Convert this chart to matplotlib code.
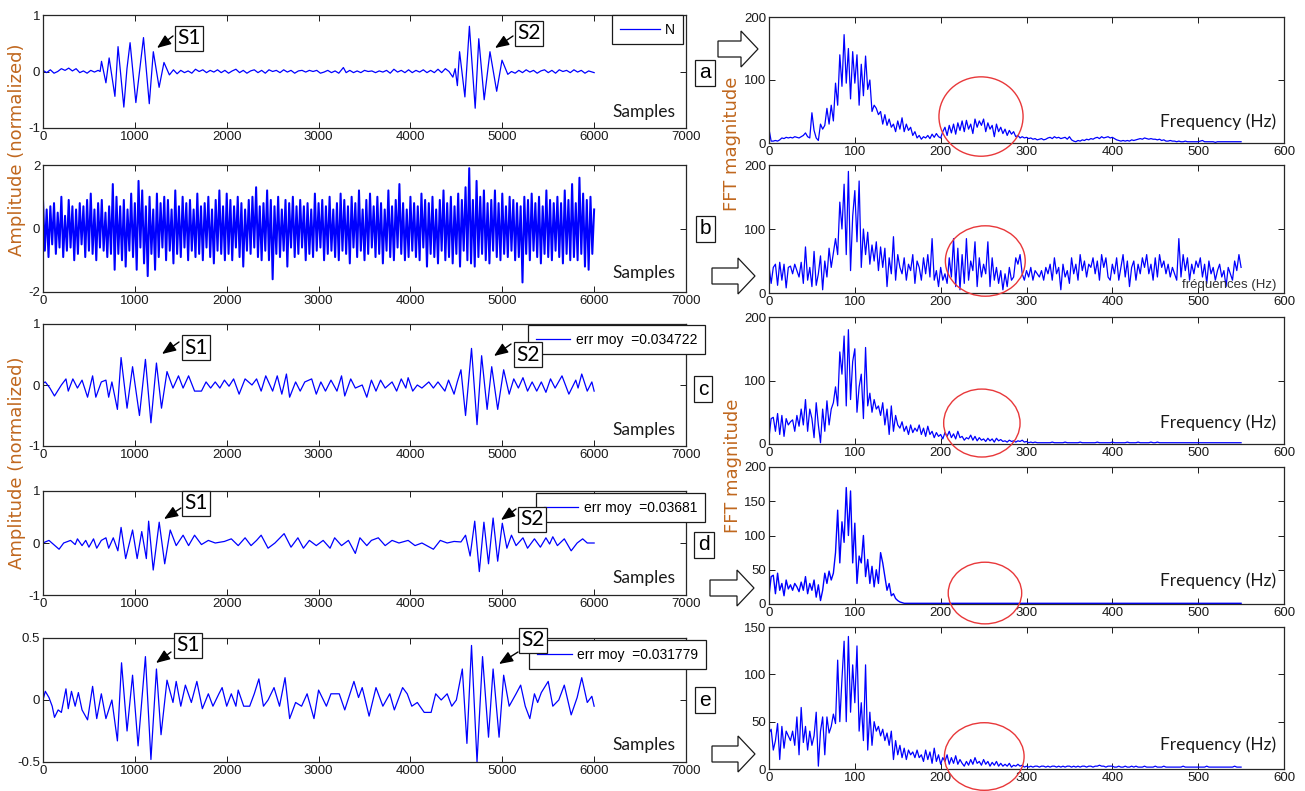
import numpy as np
import matplotlib
matplotlib.use("Agg")
import matplotlib.pyplot as plt
from matplotlib.patches import Ellipse, FancyArrow, FancyArrowPatch

# ======================= DATA =======================
# Time-domain signals: (sample index, normalized amplitude)
sig_a_points = [
    (0, 0.02), (40, -0.02), (80, 0.03), (120, -0.03), (160, 0.0), (200, 0.05), (240, 0.02),
    (280, 0.06), (320, 0.01), (360, 0.05), (400, -0.02), (440, 0.01), (480, -0.03), (520, 0.02),
    (560, -0.01), (600, 0.02), (622, 0.0), (637, 0.18), (685, -0.2), (720, 0.24), (783, -0.44),
    (817, 0.44), (880, -0.63), (914, 0.05), (948, 0.51), (1011, -0.55), (1094, 0.6), (1157, -0.57),
    (1201, 0.35), (1264, -0.28), (1317, 0.16), (1376, -0.06), (1420, 0.03), (1460, -0.04),
    (1500, 0.02), (1540, -0.02), (1580, 0.01), (1620, -0.03), (1660, 0.04), (1700, 0.0),
    (1740, 0.03), (1780, -0.02), (1820, 0.02), (1860, -0.01), (1900, 0.03), (1940, -0.02),
    (1980, 0.02), (2020, -0.03), (2060, 0.01), (2100, 0.04), (2140, -0.02), (2180, 0.02),
    (2220, -0.03), (2260, 0.01), (2300, 0.03), (2340, -0.02), (2380, 0.02), (2420, -0.03),
    (2460, 0.03), (2500, 0.0), (2540, 0.02), (2580, -0.02), (2620, 0.03), (2660, -0.01),
    (2700, 0.02), (2740, -0.03), (2780, 0.01), (2820, 0.02), (2860, -0.01), (2900, 0.02),
    (2940, 0.0), (2980, 0.02), (3020, -0.03), (3060, -0.01), (3100, 0.02), (3140, -0.02),
    (3180, 0.01), (3220, -0.03), (3270, 0.07), (3300, -0.02), (3340, 0.02), (3380, -0.02),
    (3420, 0.01), (3460, -0.02), (3500, 0.02), (3540, 0.0), (3580, 0.01), (3620, -0.02),
    (3660, 0.01), (3700, -0.01), (3740, 0.02), (3780, -0.03), (3820, 0.04), (3860, -0.01),
    (3900, 0.02), (3940, -0.02), (3980, 0.03), (4020, -0.02), (4060, 0.02), (4100, -0.01),
    (4140, 0.03), (4180, -0.02), (4220, 0.02), (4260, -0.02), (4300, 0.04), (4340, -0.02),
    (4380, 0.05), (4420, 0.0), (4462, -0.1), (4487, 0.05), (4511, -0.25), (4535, 0.35),
    (4593, -0.45), (4642, 0.8), (4705, -0.65), (4744, 0.58), (4803, -0.5), (4866, 0.35),
    (4939, -0.35), (4997, 0.2), (5060, -0.05), (5100, 0.0), (5140, -0.03), (5180, 0.02),
    (5220, -0.02), (5260, 0.03), (5300, -0.01), (5340, 0.02), (5380, -0.03), (5420, 0.01),
    (5460, 0.03), (5500, -0.02), (5540, 0.02), (5580, -0.03), (5620, 0.03), (5660, 0.0),
    (5700, 0.02), (5740, -0.02), (5780, 0.03), (5820, -0.01), (5860, 0.02), (5900, -0.03),
    (5940, 0.01), (6000, -0.02),
]

# noisy signal, one value every 20 samples
sig_b_step = 20
sig_b_values = [
    0.9, -0.7, 0.6, -0.9, 0.7, -0.5, 0.8, -0.8, 0.5, -0.6, 1.0, -0.9, 0.4, -0.7, 0.9, -0.6, 0.7, -1.0, 0.6, -0.8,
    0.8, -0.5, 0.7, -0.9, 0.9, -0.7, 1.1, -0.8, 0.6, -1.0, 0.8, -0.6, 0.9, -0.7, 0.5, -0.9, 0.7, -0.8, 1.4, -1.3,
    1.0, -0.8, 0.7, -1.0, 0.9, -1.2, 0.6, -0.7, 1.1, -0.9, 0.8, -1.3, 1.5, -0.6, 1.2, -1.1, 0.7, -1.5, 1.0, -0.8,
    0.6, -1.3, 1.1, -0.9, 0.8, -0.6, 1.0, -1.0, 0.9, -0.7, 0.6, -1.1, 1.2, -0.8, 0.7, -0.9, 1.0, -0.6, 0.8, -1.0,
    0.9, -0.7, 0.6, -0.9, 1.1, -0.8, 0.7, -1.0, 0.8, -0.6, 1.0, -0.9, 0.6, -1.1, 0.9, -0.7, 1.2, -0.8, 0.7, -1.0,
    1.1, -0.8, 0.9, -1.0, 0.7, -0.6, 1.0, -0.9, 0.8, -1.2, 0.6, -0.7, 0.9, -0.8, 1.0, -0.6, 1.3, -0.9, 0.7, -1.0,
    0.8, -0.7, 1.2, -1.0, 0.9, -1.6, 0.7, -0.8, 1.0, -0.9, 0.6, -0.7, 0.9, -1.2, 0.8, -0.6, 1.0, -0.9, 0.7, -0.8,
    0.9, -0.6, 0.7, -1.0, 0.8, -0.8, 0.6, -0.9, 1.1, -0.7, 0.8, -0.6, 0.9, -1.0, 0.7, -0.8, 1.0, -0.7, 0.6, -0.9,
    0.8, -1.0, 1.1, -0.7, 0.9, -0.8, 0.7, -1.1, 1.0, -0.6, 0.8, -0.9, 1.2, -0.7, 0.6, -1.0, 0.9, -0.8, 1.1, -0.6,
    0.7, -0.9, 1.0, -0.8, 0.8, -1.1, 0.6, -0.7, 1.2, -0.9, 0.7, -1.0, 0.9, -0.6, 1.4, -0.8, 0.8, -1.0, 0.6, -0.9,
    1.0, -0.7, 0.8, -0.9, 0.7, -1.0, 1.1, -0.6, 0.9, -1.2, 0.8, -0.8, 1.0, -0.9, 0.6, -1.1, 0.9, -0.7, 1.2, -1.0,
    0.8, -0.9, 1.0, -1.1, 0.7, -0.8, 1.1, -1.2, 0.9, -0.7, 1.3, -1.0, 1.9, -1.1, 0.9, -1.2, 1.5, -0.9, 1.0, -0.8,
    1.2, -1.0, 0.8, -1.1, 0.9, -0.7, 1.2, -0.9, 0.8, -1.0, 1.1, -0.8, 0.7, -0.9, 1.0, -0.7, 0.9, -1.0, 0.8, -0.9,
    0.7, -1.7, 1.0, -0.8, 0.9, -1.0, 1.1, -0.7, 0.8, -0.9, 1.0, -1.1, 0.7, -0.8, 1.2, -0.9, 0.9, -1.0, 0.8, -0.7,
    1.0, -0.9, 0.8, -1.1, 1.2, -0.8, 0.9, -1.0, 1.4, -0.9, 0.8, -1.0, 1.6, -0.8, 1.1, -1.2, 0.9, -1.3, 1.0, -0.8,
    0.6,
]

sig_c_points = [
    (0, 0.03), (25, 0.05), (75, -0.05), (125, -0.18), (200, 0.0), (250, 0.1), (275, -0.1), (325, 0.1),
    (375, -0.05), (425, 0.08), (485, -0.2), (540, 0.15), (575, -0.2), (635, 0.05), (685, 0.08),
    (715, -0.2), (750, 0.05), (810, -0.4), (850, 0.45), (915, -0.38), (975, 0.3), (1050, -0.5),
    (1115, 0.42), (1175, -0.62), (1235, 0.36), (1290, -0.38), (1350, 0.22), (1415, -0.05),
    (1475, 0.15), (1525, -0.05), (1585, 0.15), (1650, -0.1), (1725, -0.1), (1775, 0.05),
    (1825, -0.05), (1875, 0.05), (1925, -0.05), (1975, 0.08), (2025, -0.02), (2075, 0.1),
    (2135, -0.15), (2200, 0.1), (2275, 0.0), (2325, 0.1), (2375, -0.1), (2425, 0.15), (2500, -0.1),
    (2550, 0.15), (2600, -0.15), (2650, 0.18), (2685, -0.2), (2750, 0.05), (2800, -0.1),
    (2850, 0.05), (2925, 0.1), (2975, -0.15), (3025, 0.05), (3075, -0.1), (3135, 0.08),
    (3200, -0.1), (3250, 0.15), (3285, -0.18), (3350, 0.1), (3400, -0.05), (3475, 0.0),
    (3525, -0.2), (3575, 0.08), (3625, -0.1), (3675, 0.08), (3725, -0.05), (3800, 0.05),
    (3850, -0.1), (3900, 0.1), (3950, -0.05), (3975, 0.12), (4025, -0.1), (4075, 0.0),
    (4125, -0.05), (4200, 0.05), (4250, -0.05), (4300, 0.05), (4375, -0.1), (4415, 0.08),
    (4475, -0.15), (4510, 0.05), (4550, 0.25), (4600, -0.5), (4665, 0.6), (4725, -0.65),
    (4775, 0.48), (4835, -0.4), (4885, 0.3), (4950, -0.4), (5015, 0.25), (5075, -0.15),
    (5125, 0.1), (5175, -0.05), (5225, 0.12), (5275, -0.1), (5325, 0.05), (5375, -0.1),
    (5425, 0.05), (5475, -0.12), (5525, 0.1), (5575, -0.05), (5650, 0.15), (5725, -0.15),
    (5800, 0.08), (5825, -0.05), (5865, 0.18), (5925, -0.1), (5975, 0.05), (6000, -0.1),
]

sig_d_points = [
    (0, 0.0), (25, 0.02), (65, 0.05), (175, -0.12), (225, 0.0), (300, 0.05), (350, -0.03),
    (375, 0.08), (425, -0.05), (465, 0.05), (500, -0.08), (550, 0.08), (585, -0.1), (635, 0.05),
    (685, 0.1), (715, -0.1), (765, 0.1), (815, -0.15), (850, 0.3), (900, -0.3), (975, 0.25),
    (1025, -0.3), (1075, 0.22), (1125, -0.3), (1150, 0.42), (1200, -0.52), (1265, 0.4),
    (1325, -0.4), (1385, 0.25), (1450, -0.05), (1525, 0.15), (1585, -0.05), (1650, 0.15),
    (1725, -0.03), (1800, 0.05), (1875, 0.0), (1975, 0.03), (2050, 0.08), (2125, -0.05),
    (2200, 0.1), (2265, -0.05), (2325, 0.05), (2375, 0.15), (2450, -0.1), (2525, 0.0),
    (2625, 0.18), (2700, -0.08), (2775, 0.1), (2835, -0.1), (2900, 0.05), (2975, -0.05),
    (3050, 0.05), (3125, -0.1), (3175, 0.1), (3250, -0.05), (3325, 0.05), (3400, -0.2),
    (3450, 0.1), (3525, -0.05), (3575, 0.05), (3650, 0.1), (3725, -0.05), (3800, 0.05),
    (3875, 0.0), (3975, 0.05), (4050, -0.05), (4125, 0.0), (4250, -0.12), (4325, 0.05),
    (4400, 0.0), (4475, 0.03), (4550, 0.02), (4600, 0.15), (4650, -0.25), (4700, 0.42),
    (4750, -0.55), (4800, 0.4), (4850, -0.4), (4900, 0.48), (4950, -0.35), (5000, 0.38),
    (5050, -0.1), (5100, 0.15), (5150, -0.05), (5225, 0.1), (5275, -0.1), (5350, 0.08),
    (5415, -0.08), (5475, 0.1), (5515, -0.02), (5550, 0.12), (5600, -0.05), (5675, 0.08),
    (5750, -0.15), (5815, 0.0), (5875, 0.08), (5925, 0.0), (6000, 0.0),
]

sig_e_points = [
    (0, 0.0), (25, 0.07), (65, 0.02), (100, -0.05), (125, -0.14), (165, -0.08), (200, -0.1),
    (250, 0.09), (275, -0.07), (310, 0.07), (350, -0.05), (385, 0.06), (425, -0.08), (485, -0.16),
    (540, 0.11), (585, -0.15), (635, 0.05), (685, -0.15), (750, 0.0), (810, -0.33), (855, 0.3),
    (915, -0.25), (975, 0.2), (1035, -0.37), (1115, 0.35), (1175, -0.48), (1235, 0.25),
    (1285, -0.28), (1350, 0.16), (1415, -0.02), (1450, 0.15), (1500, -0.05), (1550, 0.12),
    (1615, -0.02), (1675, 0.15), (1735, -0.07), (1800, 0.05), (1850, -0.05), (1915, 0.05),
    (1950, 0.1), (2000, -0.05), (2050, 0.05), (2100, -0.05), (2125, 0.08), (2185, -0.05),
    (2250, -0.05), (2300, 0.05), (2350, 0.17), (2400, -0.05), (2450, 0.0), (2515, 0.1),
    (2575, -0.05), (2635, 0.18), (2685, -0.15), (2750, -0.02), (2815, -0.05), (2875, 0.05),
    (2950, -0.15), (3000, 0.08), (3085, -0.05), (3135, 0.05), (3225, 0.05), (3285, -0.08),
    (3385, 0.15), (3435, 0.02), (3475, 0.1), (3550, -0.13), (3625, 0.1), (3700, -0.05),
    (3775, 0.05), (3825, -0.08), (3915, 0.1), (3965, 0.05), (4015, -0.05), (4075, -0.02),
    (4150, -0.1), (4225, -0.1), (4275, 0.05), (4335, 0.0), (4400, 0.05), (4450, -0.05),
    (4500, 0.0), (4565, 0.25), (4615, -0.35), (4665, 0.44), (4725, -0.5), (4785, 0.35),
    (4850, -0.3), (4900, 0.25), (4965, -0.3), (5015, 0.2), (5075, -0.05), (5150, 0.05),
    (5200, 0.12), (5250, -0.05), (5300, -0.15), (5350, 0.05), (5385, -0.02), (5425, 0.06),
    (5500, 0.15), (5550, -0.05), (5615, 0.0), (5675, 0.12), (5750, -0.12), (5815, 0.02),
    (5865, 0.18), (5925, -0.02), (5975, 0.03), (6000, -0.05),
]

a_samples, a_values = zip(*sig_a_points)
c_samples, c_values = zip(*sig_c_points)
d_samples, d_values = zip(*sig_d_points)
e_samples, e_values = zip(*sig_e_points)

# FFT magnitudes, one value every 2.5 Hz from 0 to 550 Hz
fft_step = 2.5
fft_a = [
    22, 3, 3, 4, 3, 5, 8, 7, 9, 8,
    9, 8, 10, 9, 8, 10, 12, 16, 10, 8,
    48, 20, 8, 4, 30, 22, 28, 55, 30, 60,
    35, 95, 60, 140, 90, 172, 95, 150, 70, 145,
    95, 140, 60, 125, 75, 138, 85, 100, 50, 60,
    55, 45, 50, 30, 45, 28, 38, 25, 30, 18,
    35, 22, 40, 18, 30, 20, 25, 12, 18, 8,
    12, 6, 10, 8, 12, 7, 14, 9, 15, 10,
    8, 18, 25, 12, 28, 16, 30, 14, 32, 20,
    35, 18, 36, 22, 30, 15, 38, 25, 35, 28,
    38, 18, 32, 22, 28, 10, 30, 18, 25, 15,
    22, 12, 20, 14, 18, 10, 12, 8, 10, 8,
    9, 7, 8, 6, 7, 5, 6, 7, 5, 6,
    8, 9, 7, 10, 8, 9, 7, 8, 9, 6,
    10, 5, 3, 2, 4, 3, 5, 4, 6, 5,
    7, 6, 8, 9, 7, 10, 8, 9, 10, 8,
    9, 7, 5, 4, 3, 4, 3, 4, 3, 5,
    4, 5, 6, 7, 6, 8, 7, 6, 7, 6,
    6, 5, 6, 4, 5, 3, 3, 4, 3, 3,
    2, 3, 2, 2, 3, 2, 2, 2, 2, 2,
    2, 3, 4, 2, 2, 2, 2, 2, 1, 2,
    2, 2, 2, 2, 2, 2, 2, 2, 2, 2,
    2,
]
fft_b = [
    42, 15, 40, 45, 12, 48, 20, 45, 8, 40,
    42, 30, 45, 35, 25, 48, 15, 72, 20, 40,
    10, 65, 12, 30, 58, 5, 50, 25, 70, 40,
    62, 85, 60, 142, 100, 170, 60, 190, 35, 120,
    160, 80, 175, 40, 100, 60, 95, 45, 75, 50,
    80, 35, 72, 40, 70, 10, 55, 30, 88, 20,
    60, 40, 30, 55, 20, 45, 35, 60, 15, 50,
    40, 20, 55, 30, 60, 25, 85, 20, 35, 10,
    40, 20, 30, 15, 55, 25, 85, 10, 70, 5,
    60, 15, 85, 20, 50, 35, 80, 10, 55, 25,
    45, 30, 80, 10, 55, 20, 40, 15, 35, 5,
    30, 10, 40, 20, 25, 55, 45, 60, 30, 20,
    35, 25, 40, 20, 35, 30, 25, 35, 20, 40,
    30, 45, 20, 55, 30, 40, 5, 45, 25, 35,
    15, 55, 30, 45, 20, 60, 35, 50, 25, 45,
    40, 55, 30, 50, 20, 60, 40, 55, 25, 20,
    45, 30, 55, 20, 40, 60, 25, 50, 10, 40,
    50, 20, 45, 30, 55, 40, 60, 30, 45, 20,
    55, 25, 60, 40, 50, 30, 45, 25, 40, 30,
    20, 85, 25, 60, 35, 55, 20, 45, 30, 50,
    40, 55, 25, 45, 15, 50, 30, 40, 20, 35,
    45, 25, 35, 10, 40, 30, 20, 50, 35, 60,
    40,
]
fft_c = [
    10, 40, 42, 20, 48, 15, 45, 12, 40, 30,
    35, 38, 20, 45, 28, 55, 30, 70, 20, 55,
    40, 10, 65, 30, 2, 55, 20, 68, 30, 55,
    65, 90, 60, 145, 110, 170, 60, 180, 70, 130,
    150, 50, 90, 110, 40, 152, 60, 80, 50, 70,
    55, 60, 45, 65, 30, 55, 15, 60, 20, 45,
    30, 25, 35, 20, 28, 15, 30, 18, 25, 20,
    30, 15, 25, 12, 28, 15, 20, 10, 18, 12,
    15, 8, 18, 12, 20, 10, 16, 8, 20, 10,
    12, 6, 10, 8, 14, 6, 12, 5, 10, 6,
    8, 4, 9, 5, 8, 3, 9, 5, 7, 4,
    5, 3, 6, 4, 5, 3, 5, 4, 6, 3,
    4, 2, 3, 2, 3, 2, 2, 2, 2, 2,
    2, 2, 3, 2, 2, 2, 2, 2, 3, 2,
    2, 2, 2, 2, 2, 3, 2, 2, 2, 2,
    2, 2, 2, 3, 2, 2, 2, 2, 2, 2,
    3, 2, 2, 2, 2, 2, 2, 3, 2, 2,
    2, 2, 3, 2, 2, 2, 2, 2, 3, 2,
    2, 3, 2, 2, 2, 2, 2, 2, 2, 2,
    2, 2, 2, 2, 2, 2, 2, 2, 2, 2,
    2, 2, 2, 2, 2, 2, 2, 2, 2, 2,
    2, 2, 2, 2, 2, 2, 2, 2, 2, 2,
    2,
]
fft_d = [
    12, 40, 42, 15, 45, 20, 30, 12, 35, 22,
    28, 20, 30, 25, 18, 32, 20, 40, 15, 30,
    20, 35, 10, 28, 5, 20, 45, 30, 48, 35,
    45, 75, 137, 60, 120, 90, 170, 100, 165, 60,
    118, 30, 70, 60, 100, 40, 65, 30, 55, 25,
    50, 30, 75, 60, 40, 20, 30, 12, 15, 8,
    5, 3, 2, 1, 1, 1, 1, 1, 1, 1,
    1, 1, 1, 1, 1, 1, 1, 1, 1, 1,
    1, 1, 1, 1, 1, 1, 1, 1, 1, 1,
    1, 1, 1, 1, 1, 1, 1, 1, 1, 1,
    1, 1, 1, 1, 1, 1, 1, 1, 1, 1,
    1, 1, 1, 1, 1, 1, 1, 1, 1, 1,
    1, 1, 1, 1, 1, 1, 1, 1, 1, 1,
    1, 1, 1, 1, 1, 1, 1, 1, 1, 1,
    1, 1, 1, 1, 1, 1, 1, 1, 1, 1,
    1, 1, 1, 1, 1, 1, 1, 1, 1, 1,
    1, 1, 1, 1, 1, 1, 1, 1, 1, 1,
    1, 1, 1, 1, 1, 1, 1, 1, 1, 1,
    1, 1, 1, 1, 1, 1, 1, 1, 1, 1,
    1, 1, 1, 1, 1, 1, 1, 1, 1, 1,
    1, 1, 1, 1, 1, 1, 1, 1, 1, 1,
    1, 1, 1, 1, 1, 1, 1, 1, 1, 1,
    1,
]
fft_e = [
    38, 42, 20, 30, 48, 10, 45, 22, 40, 35,
    30, 40, 25, 55, 15, 65, 28, 45, 20, 40,
    25, 35, 60, 3, 40, 55, 15, 55, 38, 45,
    58, 48, 115, 50, 95, 135, 50, 140, 60, 110,
    70, 130, 40, 70, 30, 110, 20, 60, 25, 50,
    40, 45, 35, 42, 30, 38, 25, 40, 10, 30,
    15, 25, 12, 22, 10, 20, 15, 18, 12, 20,
    12, 15, 8, 20, 10, 18, 6, 22, 8, 15,
    5, 12, 8, 15, 5, 12, 6, 14, 5, 10,
    6, 3, 8, 4, 10, 5, 12, 6, 8, 4,
    10, 5, 8, 3, 7, 4, 8, 3, 6, 3,
    5, 3, 6, 2, 4, 3, 5, 3, 4, 2,
    3, 2, 3, 2, 3, 3, 2, 3, 3, 2,
    3, 2, 3, 3, 2, 3, 2, 3, 2, 3,
    3, 2, 3, 2, 3, 2, 3, 3, 2, 3,
    3, 2, 3, 3, 4, 3, 3, 2, 3, 3,
    3, 2, 2, 3, 2, 2, 3, 2, 2, 3,
    2, 3, 2, 2, 2, 3, 2, 2, 2, 2,
    3, 2, 2, 2, 3, 2, 2, 2, 2, 2,
    2, 2, 2, 3, 2, 2, 2, 2, 2, 2,
    2, 2, 2, 2, 3, 2, 2, 2, 2, 2,
    2, 2, 2, 2, 2, 2, 2, 3, 2, 2,
    2,
]

panel_labels = ["a", "b", "c", "d", "e"]
legend_labels = ["N", None, "err moy  =0.034722", "err moy  =0.03681", "err moy  =0.031779"]
time_yticks = [[-1, 0, 1], [-2, 0, 2], [-1, 0, 1], [-1, 0, 1], [-0.5, 0, 0.5]]
time_yticklabels = [["-1", "0", "1"], ["-2", "0", "2"], ["-1", "0", "1"], ["-1", "0", "1"], ["-0.5", "0", "0.5"]]
fft_yticks = [[0, 100, 200], [0, 100, 200], [0, 100, 200], [0, 50, 100, 150, 200], [0, 50, 100, 150]]
time_xticks = [0, 1000, 2000, 3000, 4000, 5000, 6000, 7000]
fft_xticks = [0, 100, 200, 300, 400, 500, 600]

# ======================= LAYOUT / STYLE =======================
W, H = 1305, 791
fig = plt.figure(figsize=(W / 100, H / 100), dpi=100)
fig.patch.set_facecolor("white")

TICK_FONT = ["Liberation Sans Narrow", "Liberation Sans", "DejaVu Sans"]
TEXT_FONT = ["Lato", "DejaVu Sans"]
plt.rcParams["font.family"] = TICK_FONT

BLUE = "#0000ff"
LABEL_COLOR = "#c0671e"
SPINE = "#262626"


def add_ax(l, t, r, b):
    ax = fig.add_axes([l / W, 1 - b / H, (r - l) / W, (b - t) / H])
    ax.tick_params(direction="in", top=True, right=True, length=4, width=0.7,
                   labelsize=9.5, pad=2, colors="#1a1a1a")
    for s in ax.spines.values():
        s.set_linewidth(0.9)
        s.set_color(SPINE)
    return ax


left_boxes = [(43, 15, 686, 128), (43, 165, 686, 292), (43, 324, 686, 446),
              (43, 491, 686, 595), (43, 638, 686, 762)]
right_boxes = [(769, 17, 1284, 143), (769, 165, 1284, 293), (769, 317, 1284, 444),
               (769, 467, 1284, 604), (769, 627, 1284, 769)]

time_series = [
    (a_samples, a_values),
    (np.arange(len(sig_b_values)) * sig_b_step, sig_b_values),
    (c_samples, c_values),
    (d_samples, d_values),
    (e_samples, e_values),
]
fft_series = [fft_a, fft_b, fft_c, fft_d, fft_e]

# legend boxes (right, top) in pixels
legend_anchor = [(683, 15), None, (705, 325), (705, 493), (706, 640)]
samples_y = [0.14, 0.15, 0.13, 0.16, 0.14]

for i, (box, (xs, ys)) in enumerate(zip(left_boxes, time_series)):
    ax = add_ax(*box)
    line, = ax.plot(xs, ys, color=BLUE, lw=1.45 if i == 1 else 0.9)
    ax.set_xlim(0, 7000)
    yt = time_yticks[i]
    ax.set_ylim(yt[0], yt[-1])
    ax.set_yticks(yt)
    ax.set_yticklabels(time_yticklabels[i])
    ax.set_xticks(time_xticks)
    ax.text(0.984, samples_y[i], "Samples", transform=ax.transAxes, ha="right", va="center",
            fontsize=12.5, family=TEXT_FONT, color="#1a1a1a")
    if legend_labels[i] is not None:
        rx, ty = legend_anchor[i]
        hl = 2.9 if i == 0 else 2.5
        leg = ax.legend([line], [legend_labels[i]], loc="upper right",
                        bbox_to_anchor=(rx / W, 1 - ty / H), bbox_transform=fig.transFigure,
                        borderaxespad=0, handlelength=hl, handletextpad=0.4,
                        borderpad=0.55, fancybox=False, framealpha=1, edgecolor="#1a1a1a",
                        prop={"family": TICK_FONT, "size": 10})
        leg.get_frame().set_linewidth(0.9)
        leg.get_lines()[0].set_linewidth(0.9)

# circles around 250 Hz: (center Hz, center value, width Hz, height value)
circle_specs = [(247, 42, 98, 126), (252, 50, 93, 110), (248, 33, 89, 107),
                (251.6, 16, 85.6, 90), (250.8, 13.2, 92.8, 71.4)]

for i, (box, vals) in enumerate(zip(right_boxes, fft_series)):
    ax = add_ax(*box)
    freqs = np.arange(len(vals)) * fft_step
    ax.plot(freqs, vals, color=BLUE, lw=0.9 if i != 3 else 1.0)
    ax.set_xlim(0, 600)
    yt = fft_yticks[i]
    ax.set_ylim(yt[0], yt[-1])
    ax.set_yticks(yt)
    ax.set_xticks(fft_xticks)
    cx, cy, cw, ch = circle_specs[i]
    ax.add_patch(Ellipse((cx, cy), cw, ch, fill=False, edgecolor="#e8383a", lw=1.0,
                         clip_on=False, zorder=5))
    if i == 1:
        ax.text(0.985, 0.06, "fréquences (Hz)", transform=ax.transAxes, ha="right",
                va="center", fontsize=9.5, family=TICK_FONT, color="#333333")
    else:
        ax.text(0.985, 0.17, "Frequency (Hz)", transform=ax.transAxes, ha="right",
                va="center", fontsize=12.5, family=TEXT_FONT, color="#1a1a1a")

# y labels
for yc in (150, 463):
    fig.text(17 / W, 1 - yc / H, "Amplitude (normalized)", rotation=90, ha="center",
             va="center", fontsize=13, family="DejaVu Sans", color=LABEL_COLOR)
for yc, xc in ((144, 732), (466, 733)):
    fig.text(xc / W, 1 - yc / H, "FFT magnitude", rotation=90, ha="center",
             va="center", fontsize=13, family="DejaVu Sans", color=LABEL_COLOR)

# panel letters in boxes
letter_pos = [(705, 73), (705, 229), (703, 389), (704, 545), (705, 700)]
for lab, (x, y) in zip(panel_labels, letter_pos):
    fig.text(x / W, 1 - y / H, lab, ha="center", va="center", fontsize=15,
             family=["Liberation Sans", "DejaVu Sans"], color="black",
             bbox=dict(boxstyle="square,pad=0.18", fc="white", ec="#1a1a1a", lw=0.9),
             zorder=6)

# S1 / S2 boxed labels with arrows: (text center, arrow tail, arrow tip) in pixels
s_labels = [
    ("S1", (189, 38), (173, 36), (157, 48)),
    ("S2", (529, 33), (513, 36), (495, 48)),
    ("S1", (196, 348), (179, 342), (162, 354)),
    ("S2", (528, 355), (511, 344), (494, 356)),
    ("S1", (196, 503), (181, 508), (164, 519)),
    ("S2", (532, 519), (516, 509), (501, 520)),
    ("S1", (188, 645), (171, 652), (156, 663)),
    ("S2", (533, 640), (518, 652), (499, 664)),
]
for txt, (tx, ty), (ax0, ay0), (ax1, ay1) in s_labels:
    fig.text(tx / W, 1 - ty / H, txt, ha="center", va="center", fontsize=15,
             family=TEXT_FONT, color="black",
             bbox=dict(boxstyle="square,pad=0.12", fc="white", ec="#1a1a1a", lw=0.9),
             zorder=7)
    fig.add_artist(FancyArrowPatch(
        (ax0 / 100, (H - ay0) / 100), (ax1 / 100, (H - ay1) / 100),
        transform=fig.dpi_scale_trans, arrowstyle="-|>,head_length=0.7,head_width=0.28",
        mutation_scale=12, shrinkA=0, shrinkB=0, color="black", lw=1.0, zorder=7))

# hollow block arrows: (tail x, center y, length)
block_arrows = [(718, 49, 40), (712, 276, 43), (710, 588, 44), (712, 754, 43)]
for x0, yc, ln in block_arrows:
    fig.add_artist(FancyArrow(x0 / 100, (H - yc) / 100, ln / 100, 0, width=0.16,
                              head_width=0.36, head_length=0.17, length_includes_head=True,
                              transform=fig.dpi_scale_trans, facecolor="white",
                              edgecolor="#1a1a1a", lw=0.9, zorder=6))

fig.savefig("out.png", dpi=100, facecolor="white")
